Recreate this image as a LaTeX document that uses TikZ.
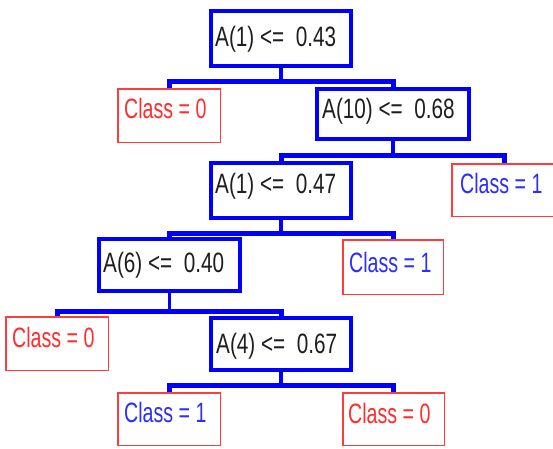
\documentclass[tikz,border=0pt]{standalone}
\usepackage{fontspec}
\newfontfamily\labfont{Liberation Sans}[FakeStretch=0.74]
\newfontfamily\clsfont{Liberation Sans}[FakeStretch=0.70]
\definecolor{treeblue}{RGB}{0,0,255}
\definecolor{leafred}{RGB}{255,60,60}
\definecolor{clsblue}{RGB}{45,45,255}
\definecolor{clsred}{RGB}{255,45,45}
\definecolor{labgray}{RGB}{30,30,30}
\begin{document}
\begin{tikzpicture}[x=1pt,y=-1pt,
  split/.style={rectangle, draw=treeblue, line width=4pt, inner sep=0pt, fill=white},
  leaf/.style={rectangle, draw=leafred, line width=1.5pt, inner sep=0pt, fill=white},
  splittext/.style={anchor=base west, inner sep=0pt, text=labgray, font=\labfont\fontsize{28}{28}\selectfont},
  leaftext/.style={anchor=base west, inner sep=0pt, font=\clsfont\fontsize{28}{28}\selectfont},
  branch/.style={draw=treeblue, line width=5pt},
  stem/.style={draw=treeblue, line width=3.5pt}]
\useasboundingbox (0,0) rectangle (553,448);
\clip (0,0) rectangle (553,448);
\fill[white] (0,0) rectangle (553,448);

% split boxes
\node[split, minimum width=140pt, minimum height=55pt] (n0) at (281,38.5) {};
\node[split, minimum width=152pt, minimum height=50pt] (n10) at (393,114) {};
\node[split, minimum width=140pt, minimum height=55pt] (n1b) at (281,190.5) {};
\node[split, minimum width=141pt, minimum height=52pt] (n6) at (169.5,265) {};
\node[split, minimum width=140pt, minimum height=52pt] (n4) at (281,344) {};

% leaf boxes
\node[leaf, minimum width=102.5pt, minimum height=53.5pt] (c0a) at (169,115.5) {};
\node[leaf, minimum width=104pt, minimum height=52.5pt] (c1r) at (504,190) {};
\node[leaf, minimum width=100.5pt, minimum height=54.5pt] (c1m) at (393,267) {};
\node[leaf, minimum width=102.5pt, minimum height=53.5pt] (c0l) at (57,343.5) {};
\node[leaf, minimum width=102.5pt, minimum height=52.5pt] (c1b) at (169,419) {};
\node[leaf, minimum width=101.5pt, minimum height=52.5pt] (c0b) at (393.5,419) {};

% connectors
\draw[branch] (c0a.north) -- ++(0,-6.25) coordinate (b1) -| (n10.north);
\draw[stem] (n0.south) -- (n0.south |- b1);
\draw[branch] (n1b.north) -- ++(0,-5.5) coordinate (b2) -| (c1r.north);
\draw[stem] (n10.south) -- (n10.south |- b2);
\draw[branch] (n6.north) -- ++(0,-4) coordinate (b3) -| (c1m.north);
\draw[stem] (n1b.south) -- (n1b.south |- b3);
\draw[branch] (c0l.north) -- ++(0,-4.75) coordinate (b4) -| (n4.north);
\draw[stem] (n6.south) -- (n6.south |- b4);
\draw[branch] (c1b.north) -- ++(0,-6.75) coordinate (b5) -| (c0b.north);
\draw[stem] (n4.south) -- (n4.south |- b5);

% texts
\node[splittext] (t0) at (215,46) {A(1) <=\ \ 0.43};
\node[splittext] (t10) at (322,118) {A(10) <=\ \ 0.68};
\node[splittext] (t1b) at (215,193) {A(1) <=\ \ 0.47};
\node[splittext] (t6) at (103,272) {A(6) <=\ \ 0.40};
\node[splittext] (t4) at (216,353) {A(4) <=\ \ 0.67};

\node[leaftext, text=clsred] (l0a) at (124,118) {Class = 0};
\node[leaftext, text=clsblue] (l1r) at (460,193) {Class = 1};
\node[leaftext, text=clsblue] (l1m) at (349,272) {Class = 1};
\node[leaftext, text=clsred] (l0l) at (12,347) {Class = 0};
\node[leaftext, text=clsblue] (l1b) at (124,422) {Class = 1};
\node[leaftext, text=clsred] (l0b) at (348,423) {Class = 0};
\end{tikzpicture}
\end{document}
